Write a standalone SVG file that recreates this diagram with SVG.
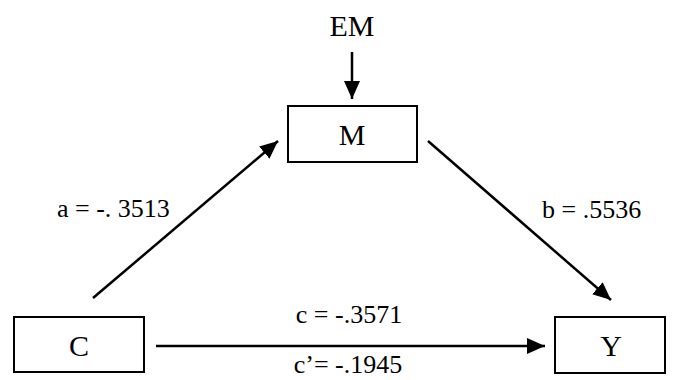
<svg xmlns="http://www.w3.org/2000/svg" width="673" height="380" viewBox="0 0 673 380">
<style>
.node{font-size:30px;text-anchor:middle}
.lbl{font-size:26px}
rect{fill:#fff;stroke:#000;stroke-width:2}
.edge{stroke:#000;stroke-width:2.5;fill:none;marker-end:url(#ah)}
</style>
<defs>
<marker id="ah" markerUnits="userSpaceOnUse" markerWidth="20" markerHeight="16" refX="18" refY="8" orient="auto">
<path d="M0,0 L18,8 L0,16 Z" fill="#000"/>
</marker>
</defs>
<g id="connectors">
<line class="edge" x1="352" y1="52" x2="352" y2="99"/>
<line class="edge" x1="93" y1="298" x2="278" y2="141"/>
<line class="edge" x1="428" y1="141" x2="611" y2="300"/>
<line class="edge" x1="156" y1="346" x2="545" y2="346"/>
</g>
<g font-family="'Liberation Serif', Tinos, 'Times New Roman', Times, serif" fill="#000">
<g id="EM"><text class="node" x="352" y="36">EM</text></g>
<g id="M"><rect x="288" y="106" width="129" height="56"/><text class="node" x="352" y="145">M</text></g>
<g id="C"><rect x="14" y="317" width="130" height="55"/><text class="node" x="79" y="356">C</text></g>
<g id="Y"><rect x="555" y="317" width="110" height="56"/><text class="node" x="611" y="356">Y</text></g>
<g id="labels">
<text class="lbl" x="57" y="217">a = -. 3513</text>
<text class="lbl" x="542" y="218">b = .5536</text>
<text class="lbl" x="349" y="323" text-anchor="middle">c = -.3571</text>
<text class="lbl" x="348" y="373" text-anchor="middle">c’= -.1945</text>
</g>
</g>
</svg>
